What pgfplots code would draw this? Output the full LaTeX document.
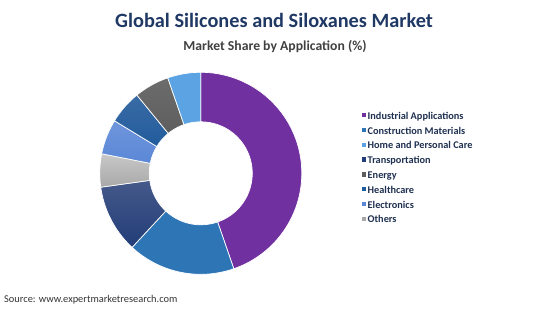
\documentclass[border=0pt]{standalone}
\usepackage{pgfplots}
\pgfplotsset{compat=1.18}
\usepackage{fontspec}
\setmainfont{Carlito}
\definecolor{titleblue}{HTML}{1F3864}
\definecolor{subgray}{HTML}{404040}
\definecolor{legtext}{HTML}{1F3050}
\definecolor{cInd}{HTML}{7030A0}
\definecolor{cCon}{HTML}{2E75B6}
\definecolor{cHome}{HTML}{5BA3E2}
\definecolor{cTra}{HTML}{223D78}
\definecolor{cTraT}{HTML}{45598A}
\definecolor{cEne}{HTML}{5E5E5E}
\definecolor{cEneT}{HTML}{6C6C6C}
\definecolor{cHea}{HTML}{215C9C}
\definecolor{cHeaT}{HTML}{3A6BA5}
\definecolor{cEle}{HTML}{5B87D6}
\definecolor{cEleT}{HTML}{6F96DC}
\definecolor{cOth}{HTML}{A8A8A8}
\definecolor{cOthT}{HTML}{C8C8C8}

% market share (%) in clockwise order from 12 o'clock
\def\vInd{44.7}
\def\vCon{17.2}
\def\vTra{10.9}
\def\vOth{5.3}
\def\vEle{5.6}
\def\vHea{5.4}
\def\vEne{5.6}
\def\vHome{5.3}

\def\cx{200.8}
\def\cy{135.7}
\def\Ro{101}
\def\Ri{51.5}

\pgfmathsetmacro\aA{90}
\pgfmathsetmacro\aB{\aA-3.6*\vInd}
\pgfmathsetmacro\aC{\aB-3.6*\vCon}
\pgfmathsetmacro\aD{\aC-3.6*\vTra}
\pgfmathsetmacro\aE{\aD-3.6*\vOth}
\pgfmathsetmacro\aF{\aE-3.6*\vEle}
\pgfmathsetmacro\aG{\aF-3.6*\vHea}
\pgfmathsetmacro\aH{\aG-3.6*\vEne}
\pgfmathsetmacro\aI{\aH-3.6*\vHome}

\newcommand\sector[3]{%
 \addplot[#3, draw=white, line width=0.7pt, domain=0:2, samples=129, variable=\t, forget plot]
  ({\cx + (((\t)<1.001) ? \Ro : \Ri)*cos((((\t)<1.001) ? (#1+(#2-#1)*\t) : (#2-(#2-#1)*(\t-1.015625)/0.984375)))},
   {\cy + (((\t)<1.001) ? \Ro : \Ri)*sin((((\t)<1.001) ? (#1+(#2-#1)*\t) : (#2-(#2-#1)*(\t-1.015625)/0.984375)))}) -- cycle;
}

\begin{document}
\begin{tikzpicture}
\begin{axis}[
  width=550pt, height=309pt, scale only axis,
  xmin=0, xmax=550, ymin=0, ymax=309,
  hide axis, clip=false,
  legend cell align=left,
  legend image code/.code={\fill[#1, draw=none] (0pt,-0.6pt) rectangle (4.4pt,3.8pt);},
  legend style={draw=none, fill=none, at={(axis cs:361.5,197.5)}, anchor=north west,
    font=\fontsize{10.3}{12}\selectfont\bfseries\color{legtext}, row sep=4.8pt,
    inner sep=0pt, nodes={inner xsep=1.6pt, inner ysep=0pt, text height=7.5pt, text depth=2.5pt}},
]
\addplot[draw=none, fill=none, forget plot] coordinates {(0,0) (550,309)};
\sector{\aA}{\aB}{fill=cInd}
\sector{\aB}{\aC}{fill=cCon}
\sector{\aC}{\aD}{top color=cTraT, bottom color=cTra}
\sector{\aD}{\aE}{top color=cOthT, bottom color=cOth}
\sector{\aE}{\aF}{top color=cEleT, bottom color=cEle}
\sector{\aF}{\aG}{top color=cHeaT, bottom color=cHea}
\sector{\aG}{\aH}{top color=cEneT, bottom color=cEne}
\sector{\aH}{\aI}{fill=cHome}

\addlegendimage{fill=cInd}
\addlegendentry{Industrial Applications}
\addlegendimage{fill=cCon}
\addlegendentry{Construction Materials}
\addlegendimage{fill=cHome}
\addlegendentry{Home and Personal Care}
\addlegendimage{fill=cTra}
\addlegendentry{Transportation}
\addlegendimage{fill=cEne}
\addlegendentry{Energy}
\addlegendimage{fill=cHea}
\addlegendentry{Healthcare}
\addlegendimage{fill=cEle}
\addlegendentry{Electronics}
\addlegendimage{fill=cOth}
\addlegendentry{Others}

\node[font=\fontsize{20.3}{23}\selectfont\bfseries, text=titleblue] at (axis cs:274,288.5) {Global Silicones and Siloxanes Market};
\node[font=\fontsize{13.7}{16}\selectfont\bfseries, text=subgray] at (axis cs:275,262.5) {Market Share by Application (\%)};
\node[font=\fontsize{10.4}{12}\selectfont, text=black!80, anchor=west, inner sep=0pt] at (axis cs:4,9) {Source: www.expertmarketresearch.com};
\end{axis}
\end{tikzpicture}
\end{document}
